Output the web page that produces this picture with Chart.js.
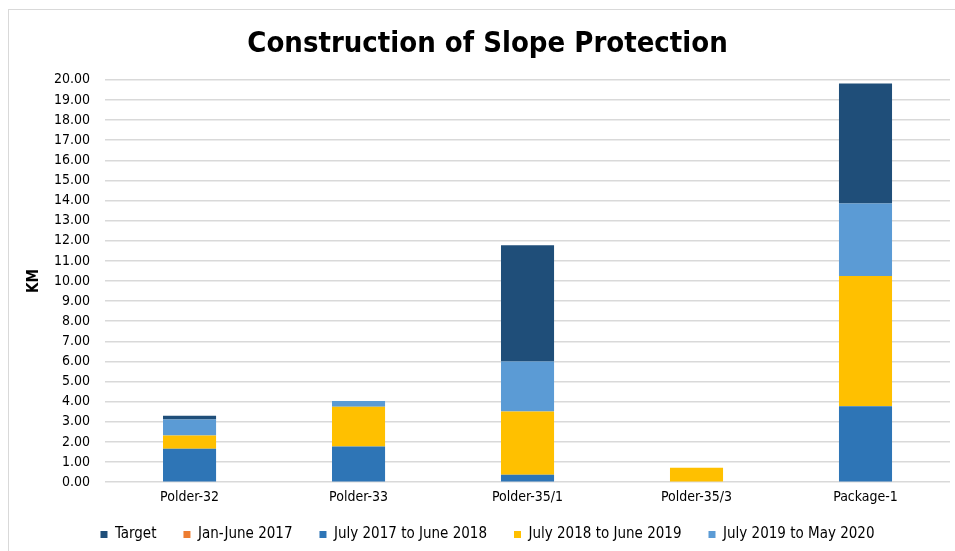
<!DOCTYPE html>
<html>
<head>
<meta charset="utf-8">
<script src="https://cdn.jsdelivr.net/npm/chart.js@4.4.1/dist/chart.umd.min.js"></script>
<style>
  html, body { margin: 0; padding: 0; background: #fff; }
  #wrap { width: 955px; height: 551px; }
</style>
</head>
<body>
<div id="wrap"><canvas id="grafica" width="955" height="551"></canvas></div>
<script>
// datos (km por periodo, apilados)
const categorias = ['Polder-32', 'Polder-33', 'Polder-35/1', 'Polder-35/3', 'Package-1'];
const jul17_jun18 = [1.66, 1.78, 0.37, 0, 3.77];
const jul18_jun19 = [0.66, 1.97, 3.15, 0.72, 6.48];
const jul19_may20 = [0.80, 0.28, 2.48, 0, 3.60];
const target = [0.18, 0, 5.78, 0, 5.97];
const jan_jun17 = [0, 0, 0, 0, 0];
const ordenLeyenda = ['Target', 'Jan-June 2017', 'July 2017 to June 2018', 'July 2018 to June 2019', 'July 2019 to May 2020'];

const fuente = "'DejaVu Sans Condensed', 'DejaVu Sans', sans-serif";

// marco gris alrededor de la grafica
const marco = {
  id: 'marco',
  beforeDraw(chart) {
    const c = chart.ctx;
    c.save();
    c.strokeStyle = '#d9d9d9';
    c.lineWidth = 1;
    c.strokeRect(8.5, 9.5, 960, 560);
    c.restore();
  }
};

// sube un poco la leyenda (queda mas pegada a las etiquetas del eje x)
const subirLeyenda = {
  id: 'subirLeyenda',
  afterLayout(chart) {
    chart.legend.top -= 13;
    chart.legend.bottom -= 13;
  }
};

const data = {
  labels: categorias,
  datasets: [{
    label: 'July 2017 to June 2018',
    data: jul17_jun18,
    backgroundColor: '#2e75b6'
  }, {
    label: 'July 2018 to June 2019',
    data: jul18_jun19,
    backgroundColor: '#ffc000'
  }, {
    label: 'July 2019 to May 2020',
    data: jul19_may20,
    backgroundColor: '#5b9bd5'
  }, {
    label: 'Target',
    data: target,
    backgroundColor: '#1f4e79'
  }, {
    label: 'Jan-June 2017',
    data: jan_jun17,
    backgroundColor: '#ed7d31'
  }]
};

data.datasets.forEach(function(ds) {
  ds.categoryPercentage = 1;
  ds.barPercentage = 0.314;
  ds.borderWidth = 0;
});

const config = {
  type: 'bar',
  data: data,
  plugins: [marco, subirLeyenda],
  options: {
    responsive: false,
    animation: false,
    layout: { padding: { left: 25, right: 5, top: 0, bottom: -14 } },
    plugins: {
      title: {
        display: true,
        text: 'Construction of Slope Protection',
        color: '#000',
        font: { family: fuente, size: 29, weight: 'bold' },
        padding: { top: 27, bottom: 18 }
      },
      legend: {
        position: 'bottom',
        labels: {
          color: '#000',
          font: { family: fuente, size: 15 },
          boxWidth: 7,
          boxHeight: 7,
          padding: 27,
          sort: function(a, b) {
            return ordenLeyenda.indexOf(a.text) - ordenLeyenda.indexOf(b.text);
          }
        }
      },
      tooltip: { enabled: false }
    },
    scales: {
      x: {
        stacked: true,
        grid: { display: false, drawTicks: false },
        border: { display: false },
        ticks: { color: '#000', font: { family: fuente, size: 14 }, padding: 7 }
      },
      y: {
        stacked: true,
        min: 0,
        max: 20,
        border: { display: false },
        grid: { color: '#d9d9d9', lineWidth: 1.5, drawTicks: false },
        ticks: {
          stepSize: 1,
          autoSkip: false,
          color: '#000',
          padding: 15,
          font: { family: fuente, size: 14 },
          callback: function(v) { return v.toFixed(2); }
        },
        title: {
          display: true,
          text: 'KM',
          color: '#000',
          font: { family: fuente, size: 15, weight: 'bold' },
          padding: { top: 0, bottom: -4 }
        }
      }
    }
  }
};

const ctx = document.getElementById('grafica').getContext('2d');
const myChart = new Chart(ctx, config);
</script>
</body>
</html>
